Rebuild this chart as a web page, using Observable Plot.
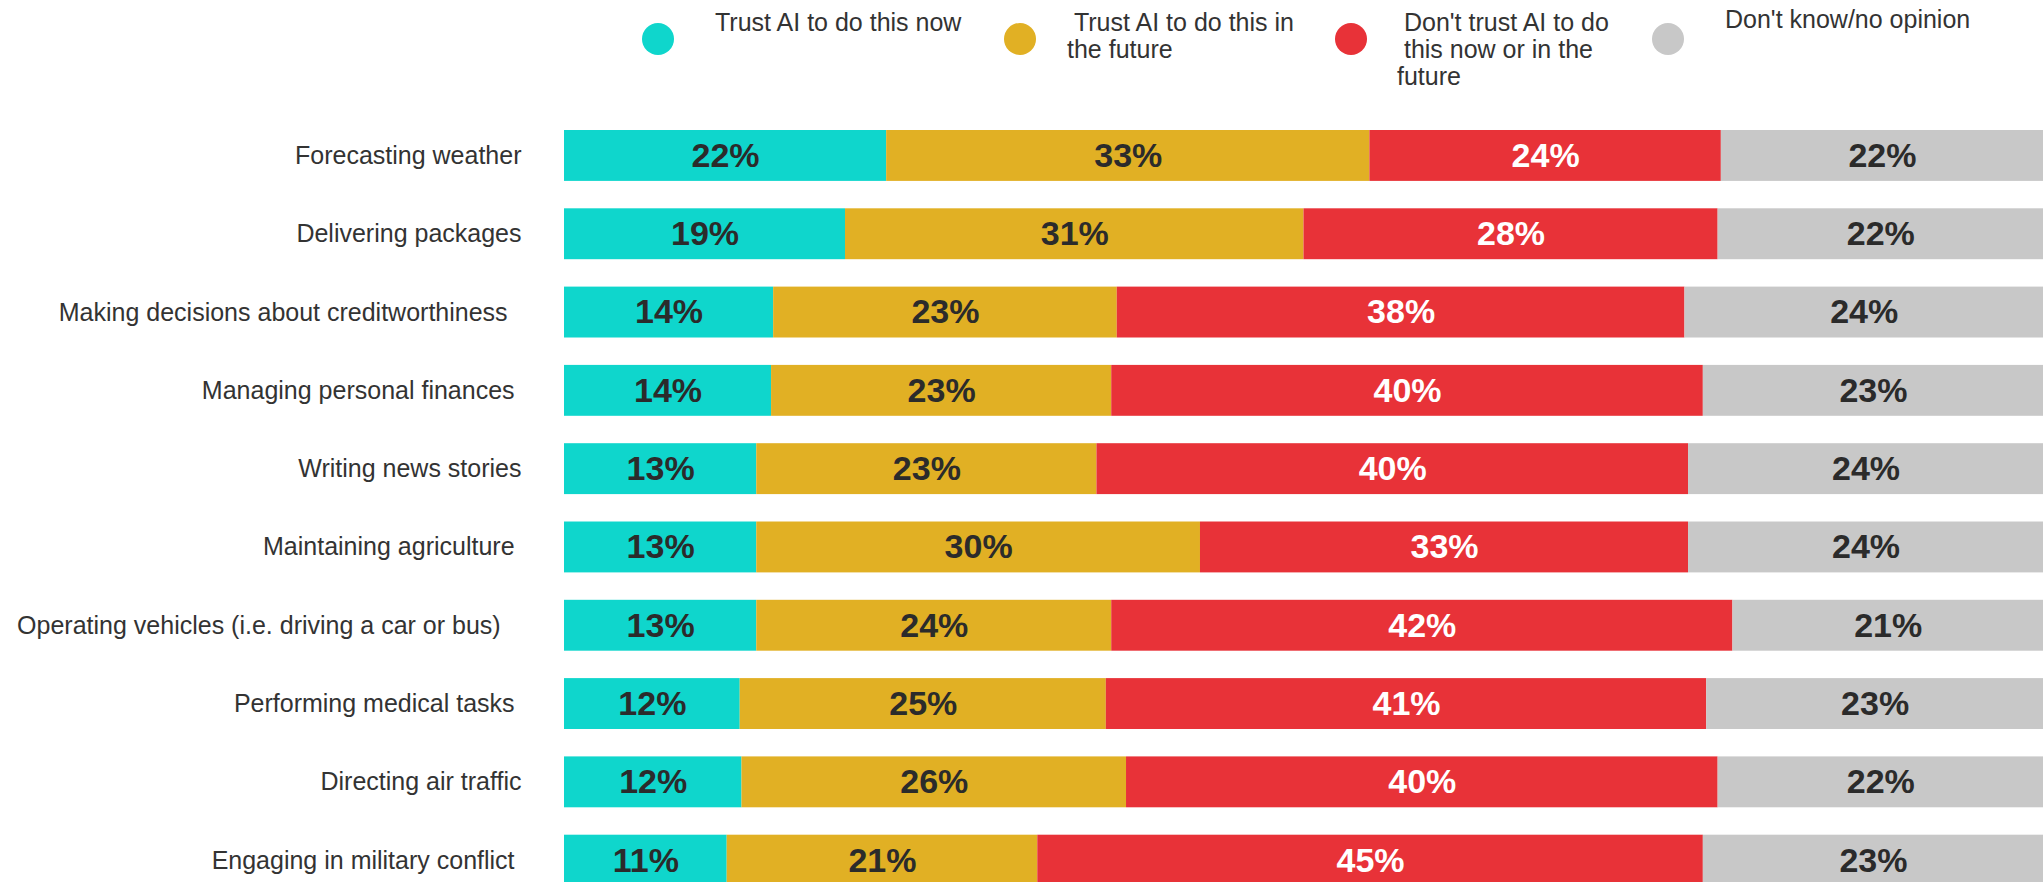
<!DOCTYPE html>
<html>
<head>
<meta charset="utf-8">
<script src="https://cdn.jsdelivr.net/npm/d3@7"></script>
<script src="https://cdn.jsdelivr.net/npm/@observablehq/plot@0.6"></script>
<style>
  html, body { margin: 0; padding: 0; background: #fff; overflow: hidden; }
  #wrap { position: relative; width: 2043px; height: 882px; font-family: "Liberation Sans", Arial, sans-serif; }
  #chart svg { overflow: hidden; display: block; }
  .legend-item { position: absolute; top: 0; display: flex; align-items: flex-start; }
  .legend-dot { width: 32px; height: 32px; border-radius: 50%; margin-top: 23px; flex: none; }
  .legend-text { font-size: 25px; line-height: 27px; color: #333; white-space: nowrap; }
</style>
</head>
<body>
<div id="wrap">
  <div id="chart"></div>
  <div id="legend"></div>
</div>
<script>
const categories = [
  "Forecasting weather",
  "Delivering packages",
  "Making decisions about creditworthiness\u00a0\u00a0",
  "Managing personal finances\u00a0",
  "Writing news stories",
  "Maintaining agriculture\u00a0",
  "Operating vehicles (i.e. driving a car or bus)\u00a0\u00a0\u00a0",
  "Performing medical tasks\u00a0",
  "Directing air traffic",
  "Engaging in military conflict\u00a0"
];
const seriesNames = [
  "Trust AI to do this now",
  "Trust AI to do this in the future",
  "Don't trust AI to do this now or in the future",
  "Don't know/no opinion"
];
const trustNow    = [22, 19, 14, 14, 13, 13, 13, 12, 12, 11];
const trustFuture = [33, 31, 23, 23, 23, 30, 24, 25, 26, 21];
const dontTrust   = [24, 28, 38, 40, 40, 33, 42, 41, 40, 45];
const dontKnow    = [22, 22, 24, 23, 24, 24, 21, 23, 22, 23];
const colors = ["#0fd6cc", "#e1b024", "#e83238", "#c8c8c8"];

const seriesValues = [trustNow, trustFuture, dontTrust, dontKnow];
const data = [];
categories.forEach((c, i) => {
  seriesValues.forEach((vals, s) => {
    data.push({category: c, series: seriesNames[s], value: vals[i]});
  });
});

const stackOpts = {x: "value", y: "category", z: "series", offset: "normalize", order: null};
const isRed = d => d.series === seriesNames[2];

const chart = Plot.plot({
  width: 2043,
  height: 882,
  marginLeft: 564,
  marginRight: 0,
  marginTop: 0,
  marginBottom: 0,
  style: {fontFamily: '"Liberation Sans", Arial, sans-serif', background: "#fff", overflow: "hidden"},
  x: {axis: null, domain: [0, 1], range: [564, 2043]},
  y: {domain: categories, range: [102.6, 913], padding: 0.35, round: false},
  color: {domain: seriesNames, range: colors},
  marks: [
    Plot.barX(data, Plot.stackX({...stackOpts, fill: "series"})),
    Plot.text(data, Plot.stackX({
      ...stackOpts,
      text: d => isRed(d) ? null : d.value + "%",
      fill: "#2b2b2b",
      fontSize: 34,
      fontWeight: "bold"
    })),
    Plot.text(data, Plot.stackX({
      ...stackOpts,
      text: d => isRed(d) ? d.value + "%" : null,
      fill: "#ffffff",
      fontSize: 34,
      fontWeight: "bold"
    })),
    Plot.axisY({tickSize: 0, tickPadding: 43, fontSize: 25, fill: "#333", label: null})
  ]
});
document.getElementById("chart").appendChild(chart);

// Legend (HTML, above the chart area)
const legendItems = [
  {left: 642, gap: 41, textTop: 9, html: "Trust AI to do this now"},
  {left: 1004, gap: 31, textTop: 9, html: "&nbsp;Trust AI to do this in<br>the future"},
  {left: 1335, gap: 30, textTop: 9, html: "&nbsp;Don't trust AI to do<br>&nbsp;this now or in the<br>future"},
  {left: 1652, gap: 41, textTop: 6, html: "Don't know/no opinion"}
];
const legend = document.getElementById("legend");
legendItems.forEach((it, i) => {
  const item = document.createElement("div");
  item.className = "legend-item";
  item.style.left = it.left + "px";
  const dot = document.createElement("div");
  dot.className = "legend-dot";
  dot.style.background = colors[i];
  const txt = document.createElement("div");
  txt.className = "legend-text";
  txt.style.marginLeft = it.gap + "px";
  txt.style.marginTop = it.textTop + "px";
  txt.innerHTML = it.html;
  item.appendChild(dot);
  item.appendChild(txt);
  legend.appendChild(item);
});
</script>
</body>
</html>
